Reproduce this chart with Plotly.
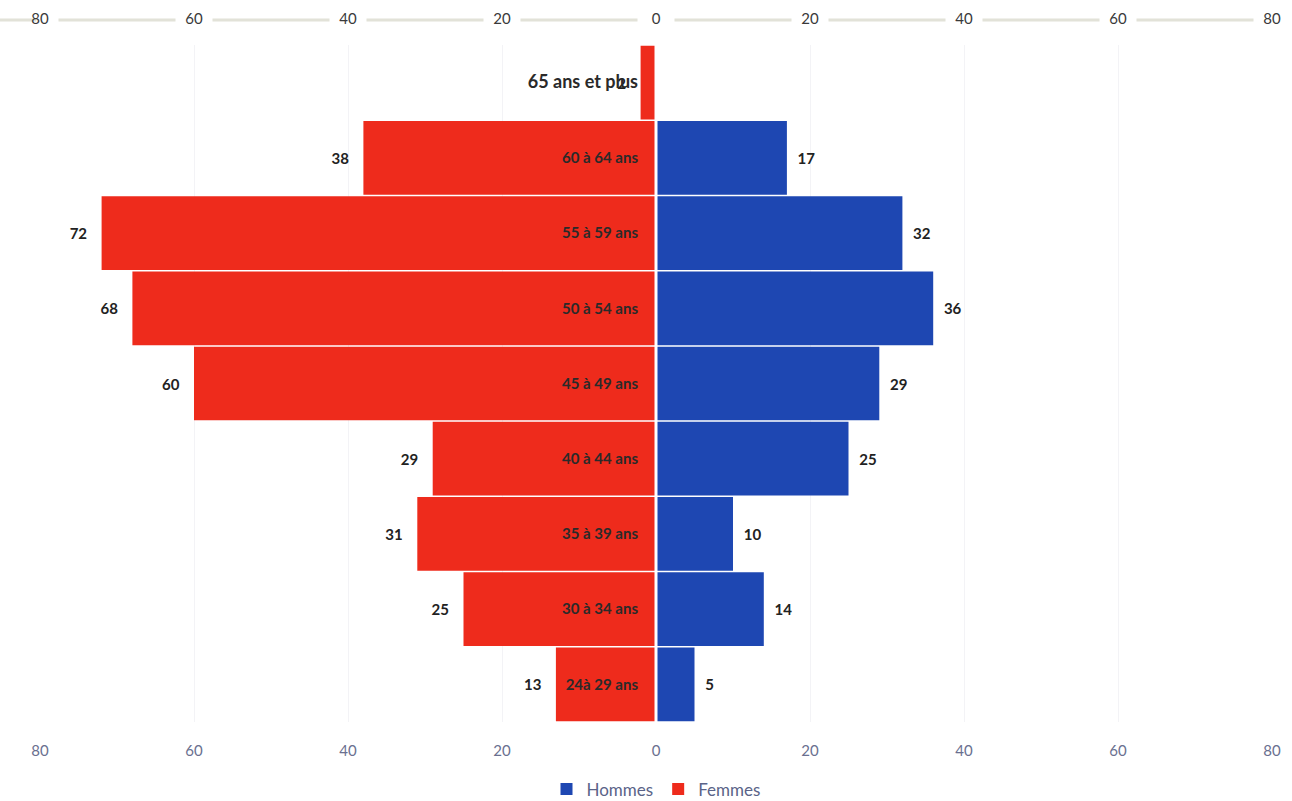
import plotly.graph_objects as go

# Age groups, youngest at the bottom
age_groups = ["24à 29 ans", "30 à 34 ans", "35 à 39 ans", "40 à 44 ans", "45 à 49 ans",
              "50 à 54 ans", "55 à 59 ans", "60 à 64 ans", "65 ans et plus"]
hommes = [5, 14, 10, 25, 29, 36, 32, 17, 0]
femmes = [13, 25, 31, 29, 60, 68, 72, 38, 2]

tick_values = [-80, -60, -40, -20, 0, 20, 40, 60, 80]
tick_labels = ["80", "60", "40", "20", "0", "20", "40", "60", "80"]

RED = "#EE2B1C"
BLUE = "#1E47B2"
NBSP = "\u00a0"

fig = go.Figure()

fig.add_trace(go.Bar(
    y=age_groups, x=hommes, orientation="h", name="Hommes",
    marker=dict(color=BLUE, line=dict(width=0)),
    text=[f"{NBSP * 2}<b>{v}</b>" if v else "" for v in hommes], textposition="outside",
    textfont=dict(family="Lato", size=15, color="#222222"),
    cliponaxis=False,
))
fig.add_trace(go.Bar(
    y=age_groups, x=[-v for v in femmes], orientation="h", name="Femmes",
    marker=dict(color=RED, line=dict(width=0)),
    text=[f"<b>{v}</b>{NBSP * 3}" for v in femmes], textposition="outside",
    textfont=dict(family="Lato", size=15, color="#222222"),
    cliponaxis=False,
))

# Category names sit at the centre of the pyramid
cat_text = [f"<b>{g}</b>" if g != "65 ans et plus" else
            f"<span style='font-size:18px'><b>{g}</b></span>" for g in age_groups]

fig.update_layout(
    width=1292, height=801,
    margin=dict(l=40, r=20, t=45, b=79, autoexpand=False),
    paper_bgcolor="white", plot_bgcolor="white",
    barmode="overlay", bargap=0.02,
    showlegend=True,
    legend=dict(orientation="h", x=0.5, xanchor="center",
                yref="paper", y=-0.073, yanchor="top",
                font=dict(family="Lato", size=17, color="#5a6388"),
                itemwidth=30, traceorder="normal"),
    xaxis=dict(range=[-80, 80], tickvals=tick_values, ticktext=tick_labels,
               showgrid=True, gridcolor="#f3f3f6", zeroline=False, showline=False,
               ticks="", tickfont=dict(family="Lato", size=15, color="#6a7090"),
               ticklabelstandoff=18, automargin=False),
    xaxis2=dict(range=[-80, 80], tickvals=tick_values, ticktext=tick_labels,
                overlaying="x", side="top", matches="x", showgrid=False,
                zeroline=False, showline=False, ticks="",
                tickfont=dict(family="Lato", size=15, color="#3a3a3a"),
                ticklabelstandoff=17, automargin=False),
    yaxis=dict(range=[-0.5, 8.5], tickvals=age_groups, ticktext=cat_text,
               anchor="free", position=0.5, side="left", showgrid=False,
               zeroline=False, showline=False, ticks="", ticklabelstandoff=18,
               tickfont=dict(family="Lato", size=15, color="#2a2a2a"),
               automargin=False),
)

# dummy trace to activate the top axis
fig.add_trace(go.Scatter(x=[0], y=[age_groups[0]], xaxis="x2", mode="markers",
                         marker=dict(opacity=0), showlegend=False, hoverinfo="skip"))

# top axis rule, broken around the tick labels
for a, b in zip(tick_values[:-1], tick_values[1:]):
    fig.add_shape(type="line", xref="x", yref="paper", x0=a + 2.4, x1=b - 2.4,
                  y0=1.037, y1=1.037, line=dict(color="#e2e2d8", width=3), layer="below")
fig.add_shape(type="line", xref="paper", yref="paper", x0=-0.05, x1=-0.003,
              y0=1.037, y1=1.037, line=dict(color="#e2e2d8", width=3), layer="below")

# white separator at zero between the two sides
fig.add_shape(type="line", xref="x", yref="paper", x0=0, x1=0, y0=0, y1=1,
              line=dict(color="white", width=3), layer="above")

fig.write_html("out.html")
